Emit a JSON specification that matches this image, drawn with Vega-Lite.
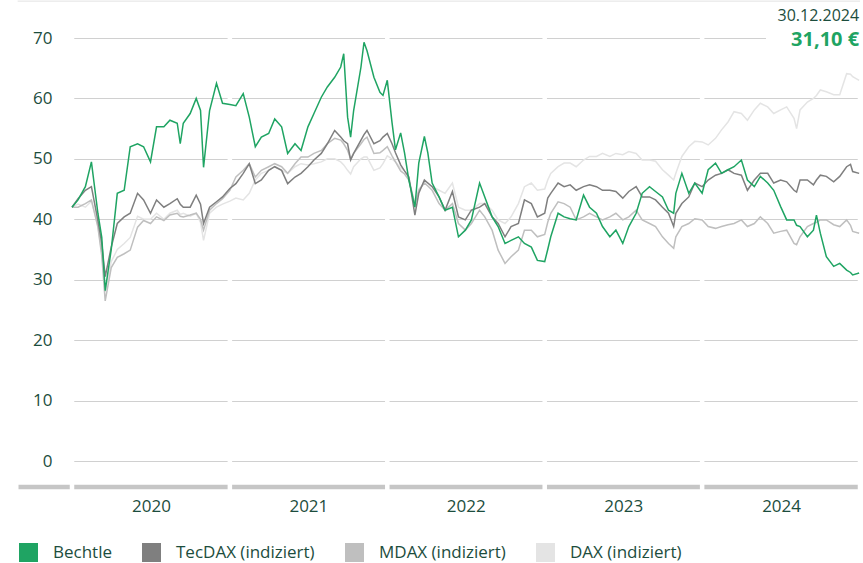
{
  "$schema": "https://vega.github.io/schema/vega-lite/v6.json",
  "width": 788,
  "height": 423,
  "autosize": {"type": "none"},
  "padding": {"left": 72, "top": 38, "right": 3, "bottom": 102},
  "background": "white",
  "config": {
    "view": {"stroke": null},
    "font": "Open Sans",
    "axisY": {"grid": true, "gridColor": "#d0d0d0", "gridWidth": 1, "domain": false, "ticks": false, "labelPadding": 20, "labelFontSize": 17, "labelColor": "#1c4d3d", "labelFont": "Open Sans", "title": null},
    "axisX": {"grid": false, "domain": false, "ticks": false, "labelPadding": 37, "labelFontSize": 17, "labelColor": "#1c4d3d", "labelFont": "Open Sans", "title": null}
  },
  "datasets": {
    "kurse": [
      {"d": "2020-01-01", "B": 42, "T": 42, "M": 42, "D": 42},
      {"d": "2020-01-15", "B": 43.2, "T": 43.4, "M": 42, "D": 42.5},
      {"d": "2020-02-01", "B": 45.4, "T": 44.8, "M": 42.6, "D": 42},
      {"d": "2020-02-15", "B": 49.5, "T": 45.4, "M": 43.2, "D": 43},
      {"d": "2020-03-01", "B": 41, "T": 39.8, "M": 38.7, "D": 39},
      {"d": "2020-03-10", "B": 37, "T": 36, "M": 34, "D": 34.5},
      {"d": "2020-03-18", "B": 28.2, "T": 30.5, "M": 26.5, "D": 28},
      {"d": "2020-04-01", "B": 35, "T": 35.4, "M": 32, "D": 33},
      {"d": "2020-04-15", "B": 44.3, "T": 39.3, "M": 33.7, "D": 35},
      {"d": "2020-05-01", "B": 44.8, "T": 40.4, "M": 34.3, "D": 36},
      {"d": "2020-05-15", "B": 52, "T": 41, "M": 34.9, "D": 37},
      {"d": "2020-06-01", "B": 52.5, "T": 44.3, "M": 38.7, "D": 40.5},
      {"d": "2020-06-15", "B": 52, "T": 43.2, "M": 39.8, "D": 40},
      {"d": "2020-07-01", "B": 49.5, "T": 41, "M": 39.3, "D": 40},
      {"d": "2020-07-15", "B": 55.3, "T": 43.2, "M": 40.4, "D": 41},
      {"d": "2020-08-01", "B": 55.3, "T": 42, "M": 39.8, "D": 40},
      {"d": "2020-08-15", "B": 56.4, "T": 42.6, "M": 40.7, "D": 41},
      {"d": "2020-09-01", "B": 55.9, "T": 43.4, "M": 41, "D": 41.5},
      {"d": "2020-09-08", "B": 52.5, "T": 42.5, "M": 40.5, "D": 40.8},
      {"d": "2020-09-15", "B": 55.9, "T": 42, "M": 40.4, "D": 41},
      {"d": "2020-10-01", "B": 57.5, "T": 42, "M": 40.7, "D": 40.5},
      {"d": "2020-10-15", "B": 60, "T": 44, "M": 41, "D": 41},
      {"d": "2020-10-25", "B": 58, "T": 42.5, "M": 40, "D": 39.5},
      {"d": "2020-11-01", "B": 48.6, "T": 39.3, "M": 38.2, "D": 36.5},
      {"d": "2020-11-15", "B": 58, "T": 42, "M": 41.5, "D": 41},
      {"d": "2020-12-01", "B": 62.5, "T": 42.9, "M": 42.6, "D": 42},
      {"d": "2020-12-15", "B": 59.2, "T": 43.7, "M": 43.4, "D": 42.5},
      {"d": "2021-01-01", "B": 59, "T": 45.1, "M": 44.8, "D": 43},
      {"d": "2021-01-15", "B": 58.8, "T": 45.9, "M": 47, "D": 43.5},
      {"d": "2021-02-01", "B": 60.8, "T": 47.6, "M": 48.1, "D": 43.2},
      {"d": "2021-02-15", "B": 56.9, "T": 49.2, "M": 49.2, "D": 44.3},
      {"d": "2021-03-01", "B": 52, "T": 45.9, "M": 47, "D": 46.5},
      {"d": "2021-03-15", "B": 53.6, "T": 46.5, "M": 48.1, "D": 47.6},
      {"d": "2021-04-01", "B": 54.2, "T": 48.1, "M": 48.7, "D": 48.1},
      {"d": "2021-04-15", "B": 56.6, "T": 48.7, "M": 49.2, "D": 48.7},
      {"d": "2021-05-01", "B": 55.3, "T": 48.1, "M": 48.7, "D": 48.1},
      {"d": "2021-05-15", "B": 50.9, "T": 45.9, "M": 47.6, "D": 47.6},
      {"d": "2021-06-01", "B": 52.5, "T": 47, "M": 49.2, "D": 48.7},
      {"d": "2021-06-15", "B": 51.4, "T": 47.6, "M": 50.3, "D": 49.2},
      {"d": "2021-07-01", "B": 55.3, "T": 48.7, "M": 50.3, "D": 49},
      {"d": "2021-07-15", "B": 57.5, "T": 49.8, "M": 50.9, "D": 49.2},
      {"d": "2021-08-01", "B": 60.2, "T": 50.9, "M": 51.4, "D": 49.5},
      {"d": "2021-08-15", "B": 61.9, "T": 52.5, "M": 52.5, "D": 50},
      {"d": "2021-09-01", "B": 63.5, "T": 54.7, "M": 53.4, "D": 50},
      {"d": "2021-09-15", "B": 65.2, "T": 53.6, "M": 53.1, "D": 49.5},
      {"d": "2021-09-22", "B": 67.4, "T": 53, "M": 52.5, "D": 49},
      {"d": "2021-10-01", "B": 56.9, "T": 52.5, "M": 51.4, "D": 48.1},
      {"d": "2021-10-08", "B": 53.6, "T": 49.8, "M": 50, "D": 47.5},
      {"d": "2021-10-15", "B": 58, "T": 50.9, "M": 50.9, "D": 48.7},
      {"d": "2021-11-01", "B": 65.2, "T": 53.1, "M": 52.5, "D": 50},
      {"d": "2021-11-08", "B": 69.3, "T": 54, "M": 53.2, "D": 50.3},
      {"d": "2021-11-15", "B": 67.9, "T": 54.7, "M": 53.6, "D": 50.3},
      {"d": "2021-12-01", "B": 63.5, "T": 52.5, "M": 50.9, "D": 48.1},
      {"d": "2021-12-15", "B": 61, "T": 53, "M": 51, "D": 48.5},
      {"d": "2021-12-22", "B": 60.5, "T": 53.6, "M": 51.4, "D": 49.2},
      {"d": "2022-01-01", "B": 63, "T": 54.2, "M": 52, "D": 50.5},
      {"d": "2022-01-12", "B": 56, "T": 52.5, "M": 50.5, "D": 50},
      {"d": "2022-01-20", "B": 51.5, "T": 51, "M": 49.5, "D": 49.5},
      {"d": "2022-02-01", "B": 54.3, "T": 49, "M": 48, "D": 48.5},
      {"d": "2022-02-10", "B": 51, "T": 48, "M": 47.5, "D": 48},
      {"d": "2022-02-20", "B": 46.5, "T": 47, "M": 46.5, "D": 47},
      {"d": "2022-03-06", "B": 42, "T": 40.7, "M": 42.6, "D": 42},
      {"d": "2022-03-15", "B": 49.3, "T": 44.3, "M": 44.8, "D": 45},
      {"d": "2022-03-28", "B": 53.7, "T": 46.5, "M": 46, "D": 46},
      {"d": "2022-04-05", "B": 51, "T": 46, "M": 45.5, "D": 46},
      {"d": "2022-04-15", "B": 46, "T": 45.4, "M": 44.8, "D": 45.4},
      {"d": "2022-05-01", "B": 43.7, "T": 43.7, "M": 42.6, "D": 44.8},
      {"d": "2022-05-15", "B": 41.5, "T": 41.5, "M": 41.5, "D": 44.3},
      {"d": "2022-06-01", "B": 42, "T": 44.6, "M": 42.6, "D": 46},
      {"d": "2022-06-15", "B": 37.1, "T": 40.4, "M": 39.3, "D": 42},
      {"d": "2022-07-01", "B": 38.2, "T": 39.9, "M": 38.2, "D": 41.5},
      {"d": "2022-07-15", "B": 39.9, "T": 41.5, "M": 39.3, "D": 41.5},
      {"d": "2022-08-03", "B": 46, "T": 42, "M": 41.5, "D": 42.6},
      {"d": "2022-08-15", "B": 43.7, "T": 42.6, "M": 40.4, "D": 42.6},
      {"d": "2022-09-01", "B": 40.4, "T": 40.4, "M": 38.2, "D": 41.5},
      {"d": "2022-09-15", "B": 38.8, "T": 39.3, "M": 34.9, "D": 39.9},
      {"d": "2022-10-01", "B": 36, "T": 37.1, "M": 32.7, "D": 39.3},
      {"d": "2022-10-15", "B": 36.5, "T": 38.8, "M": 33.8, "D": 40.4},
      {"d": "2022-11-01", "B": 37.1, "T": 39.3, "M": 34.9, "D": 42.6},
      {"d": "2022-11-15", "B": 36, "T": 43.2, "M": 38.2, "D": 45.4},
      {"d": "2022-12-01", "B": 35.4, "T": 42.6, "M": 38.2, "D": 46},
      {"d": "2022-12-15", "B": 33.2, "T": 40.4, "M": 37.1, "D": 44.8},
      {"d": "2023-01-01", "B": 33, "T": 41, "M": 37.5, "D": 45},
      {"d": "2023-01-08", "B": 35, "T": 43.5, "M": 39.5, "D": 46.5},
      {"d": "2023-01-15", "B": 37.1, "T": 44.3, "M": 41, "D": 47.6},
      {"d": "2023-02-01", "B": 41, "T": 46, "M": 42.9, "D": 48.7},
      {"d": "2023-02-15", "B": 40.4, "T": 45.4, "M": 42.6, "D": 49.3},
      {"d": "2023-03-01", "B": 40.1, "T": 45.7, "M": 42, "D": 49.3},
      {"d": "2023-03-15", "B": 39.9, "T": 44.8, "M": 39.9, "D": 48.7},
      {"d": "2023-04-01", "B": 44, "T": 45.4, "M": 40.4, "D": 49.8},
      {"d": "2023-04-15", "B": 42, "T": 45.7, "M": 41, "D": 50.4},
      {"d": "2023-05-01", "B": 41, "T": 45.4, "M": 40.4, "D": 50.4},
      {"d": "2023-05-15", "B": 38.8, "T": 44.8, "M": 39.9, "D": 50.9},
      {"d": "2023-06-01", "B": 37.1, "T": 44.8, "M": 40.4, "D": 50.4},
      {"d": "2023-06-15", "B": 38.2, "T": 44.6, "M": 41, "D": 50.9},
      {"d": "2023-07-01", "B": 36, "T": 43.5, "M": 39.9, "D": 50.7},
      {"d": "2023-07-15", "B": 38.8, "T": 44.6, "M": 40.4, "D": 51.2},
      {"d": "2023-08-01", "B": 41, "T": 45.4, "M": 41.5, "D": 50.9},
      {"d": "2023-08-15", "B": 44.3, "T": 43.7, "M": 39.9, "D": 49.8},
      {"d": "2023-09-01", "B": 45.4, "T": 43.7, "M": 39.3, "D": 49.8},
      {"d": "2023-09-15", "B": 44.6, "T": 43.2, "M": 38.8, "D": 49.6},
      {"d": "2023-10-01", "B": 43.7, "T": 42, "M": 37.1, "D": 48.2},
      {"d": "2023-10-15", "B": 41.5, "T": 41, "M": 36, "D": 47.3},
      {"d": "2023-10-27", "B": 41, "T": 38.8, "M": 35.2, "D": 46.5},
      {"d": "2023-11-01", "B": 44.3, "T": 41, "M": 37.1, "D": 47.6},
      {"d": "2023-11-15", "B": 47.6, "T": 42.6, "M": 38.8, "D": 50.4},
      {"d": "2023-12-01", "B": 44.3, "T": 43.7, "M": 39.3, "D": 52},
      {"d": "2023-12-15", "B": 46, "T": 46, "M": 40.1, "D": 52.9},
      {"d": "2024-01-01", "B": 44.3, "T": 45.4, "M": 39.9, "D": 52.8},
      {"d": "2024-01-15", "B": 48.2, "T": 46.5, "M": 38.8, "D": 52.3},
      {"d": "2024-02-01", "B": 49.3, "T": 47.3, "M": 38.5, "D": 53.4},
      {"d": "2024-02-15", "B": 47.6, "T": 47.6, "M": 38.8, "D": 54.8},
      {"d": "2024-03-01", "B": 48.2, "T": 48.2, "M": 39.1, "D": 56.1},
      {"d": "2024-03-15", "B": 48.7, "T": 47.6, "M": 39.3, "D": 57.8},
      {"d": "2024-04-01", "B": 49.8, "T": 47.3, "M": 39.9, "D": 57.5},
      {"d": "2024-04-15", "B": 46.5, "T": 44.8, "M": 38.8, "D": 56.4},
      {"d": "2024-05-01", "B": 45.4, "T": 46.5, "M": 39.3, "D": 58.1},
      {"d": "2024-05-15", "B": 47.1, "T": 47.6, "M": 40.4, "D": 59.2},
      {"d": "2024-06-01", "B": 46, "T": 47.6, "M": 39.3, "D": 58.6},
      {"d": "2024-06-15", "B": 44.8, "T": 46, "M": 37.7, "D": 57.5},
      {"d": "2024-07-01", "B": 42.1, "T": 46.5, "M": 38, "D": 58.1},
      {"d": "2024-07-15", "B": 39.9, "T": 46.2, "M": 38.2, "D": 58.6},
      {"d": "2024-08-01", "B": 39.9, "T": 44.8, "M": 36, "D": 56.7},
      {"d": "2024-08-07", "B": 39, "T": 44.5, "M": 35.8, "D": 55},
      {"d": "2024-08-15", "B": 38.8, "T": 46.5, "M": 37.1, "D": 58.1},
      {"d": "2024-09-01", "B": 37.1, "T": 46.5, "M": 38.8, "D": 59.4},
      {"d": "2024-09-15", "B": 38.2, "T": 45.7, "M": 39.3, "D": 60},
      {"d": "2024-09-22", "B": 40.7, "T": 46.5, "M": 39.5, "D": 60.5},
      {"d": "2024-10-01", "B": 37.7, "T": 47.3, "M": 39.9, "D": 61.4},
      {"d": "2024-10-15", "B": 33.8, "T": 47.1, "M": 39.9, "D": 61.1},
      {"d": "2024-11-01", "B": 32.2, "T": 46.2, "M": 39.1, "D": 60.6},
      {"d": "2024-11-15", "B": 32.7, "T": 47.1, "M": 38.8, "D": 60.6},
      {"d": "2024-12-01", "B": 31.6, "T": 48.7, "M": 39.9, "D": 64.1},
      {"d": "2024-12-10", "B": 31.2, "T": 49.1, "M": 39, "D": 64},
      {"d": "2024-12-15", "B": 30.8, "T": 47.9, "M": 38, "D": 63.6},
      {"d": "2024-12-30", "B": 31.1, "T": 47.6, "M": 37.7, "D": 63}
    ],
    "jahre": [
      {"grenze": "2020-01-01"},
      {"grenze": "2021-01-01"},
      {"grenze": "2022-01-01"},
      {"grenze": "2023-01-01"},
      {"grenze": "2024-01-01"},
      {"grenze": "2025-01-01"}
    ]
  },
  "layer": [
    {
      "data": {"values": [{}]},
      "mark": {"type": "rule", "stroke": "#e2e2e2", "strokeWidth": 1},
      "encoding": {
        "x": {"datum": {"year": 2019, "month": 8, "date": 28}, "type": "temporal"},
        "x2": {"datum": {"year": 2025, "month": 1, "date": 1}},
        "y": {"datum": 76.1, "type": "quantitative"}
      }
    },
    {
      "data": {"values": [{}]},
      "mark": {"type": "rule", "stroke": "#c6c6c6", "strokeWidth": 4.5},
      "encoding": {
        "x": {"datum": {"year": 2019, "month": 8, "date": 30}, "type": "temporal"},
        "x2": {"datum": {"year": 2025, "month": 1, "date": 1}},
        "y": {"datum": -4.3, "type": "quantitative"}
      }
    },
    {
      "data": {"name": "jahre"},
      "mark": {"type": "rule", "stroke": "white", "strokeWidth": 4.5},
      "encoding": {
        "x": {"field": "grenze", "type": "temporal"},
        "y": {"datum": -7, "type": "quantitative"},
        "y2": {"datum": 70.6}
      }
    },
    {
      "data": {"values": [{}]},
      "mark": {"type": "rule", "stroke": "white", "strokeWidth": 3},
      "encoding": {
        "x": {"datum": {"year": 2024, "month": 5, "date": 28}, "type": "temporal"},
        "x2": {"datum": {"year": 2025, "month": 1, "date": 2}},
        "y": {"datum": 70, "type": "quantitative"}
      }
    },
    {
      "data": {"name": "kurse"},
      "mark": {"type": "line", "strokeWidth": 1.5, "interpolate": "linear"},
      "encoding": {
        "x": {
          "field": "d", "type": "temporal",
          "scale": {"domain": [{"year": 2020, "month": 1, "date": 1}, {"year": 2025, "month": 1, "date": 1}]},
          "axis": {"format": "%Y", "values": [
            {"year": 2020, "month": 7, "date": 2},
            {"year": 2021, "month": 7, "date": 2},
            {"year": 2022, "month": 7, "date": 2},
            {"year": 2023, "month": 7, "date": 2},
            {"year": 2024, "month": 7, "date": 2}
          ]}
        },
        "y": {"field": "D", "type": "quantitative", "scale": {"domain": [0, 70], "nice": false, "zero": false}, "axis": {"values": [0, 10, 20, 30, 40, 50, 60, 70]}},
        "color": {
          "datum": "DAX (indiziert)", "type": "nominal",
          "scale": {"domain": ["Bechtle", "TecDAX (indiziert)", "MDAX (indiziert)", "DAX (indiziert)"], "range": ["#1fa463", "#7f7f7f", "#bfbfbf", "#e4e4e4"]},
          "legend": {
            "orient": "none", "legendX": -53, "legendY": 505, "direction": "horizontal",
            "title": null, "symbolType": "square", "symbolSize": 361, "symbolStrokeWidth": 0,
            "labelFontSize": 17, "labelColor": "#1c4d3d", "labelFont": "Open Sans", "labelOffset": 15,
            "columnPadding": 30, "padding": 0, "labelLimit": 300,
            "encode": {"symbols": {"update": {"fill": {"scale": "color", "field": "value"}, "opacity": {"value": 1}, "strokeWidth": {"value": 0}}}}
          }
        }
      }
    },
    {
      "data": {"name": "kurse"},
      "mark": {"type": "line", "strokeWidth": 1.5},
      "encoding": {
        "x": {"field": "d", "type": "temporal"},
        "y": {"field": "M", "type": "quantitative"},
        "color": {"datum": "MDAX (indiziert)", "type": "nominal"}
      }
    },
    {
      "data": {"name": "kurse"},
      "mark": {"type": "line", "strokeWidth": 1.5},
      "encoding": {
        "x": {"field": "d", "type": "temporal"},
        "y": {"field": "T", "type": "quantitative"},
        "color": {"datum": "TecDAX (indiziert)", "type": "nominal"}
      }
    },
    {
      "data": {"name": "kurse"},
      "mark": {"type": "line", "strokeWidth": 1.5},
      "encoding": {
        "x": {"field": "d", "type": "temporal"},
        "y": {"field": "B", "type": "quantitative"},
        "color": {"datum": "Bechtle", "type": "nominal"}
      }
    },
    {
      "data": {"values": [{}]},
      "mark": {"type": "text", "text": "30.12.2024", "align": "right", "baseline": "middle", "fontSize": 16, "font": "Open Sans", "color": "#1c4d3d"},
      "encoding": {
        "x": {"datum": {"year": 2024, "month": 12, "date": 30}, "type": "temporal"},
        "y": {"datum": 73.6, "type": "quantitative"}
      }
    },
    {
      "data": {"values": [{}]},
      "mark": {"type": "text", "text": "31,10 €", "align": "right", "baseline": "middle", "fontSize": 20, "fontWeight": "bold", "font": "Open Sans", "color": "#1fa463"},
      "encoding": {
        "x": {"datum": {"year": 2024, "month": 12, "date": 30}, "type": "temporal"},
        "y": {"datum": 69.6, "type": "quantitative"}
      }
    }
  ]
}
